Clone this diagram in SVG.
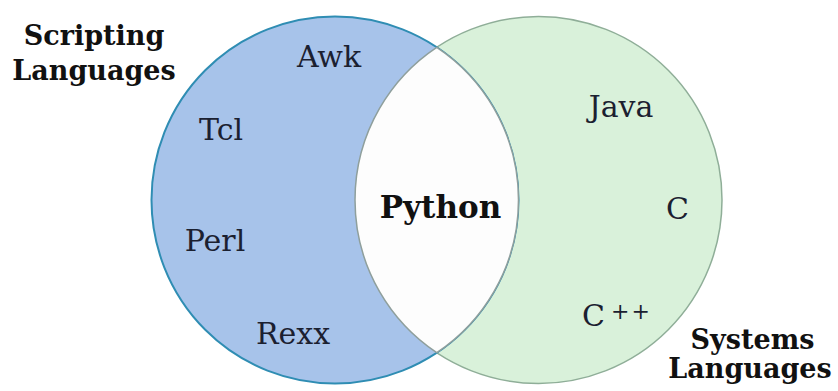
<svg xmlns="http://www.w3.org/2000/svg" width="838" height="391" viewBox="0 0 838 391">
<style>
text{font-family:"DejaVu Serif","Liberation Serif",serif;fill:#1b2030}
.b{font-weight:bold;fill:#111;font-size:27px}
.m{font-size:30px}
.p{font-size:31px}
</style>
<rect width="838" height="391" fill="#fff"/>
<g id="systems-set">
<circle cx="538.5" cy="200" r="183.5" fill="#d9f1da" stroke="#8fae98" stroke-width="1.5"/>
</g>
<g id="scripting-set">
<circle cx="335" cy="200" r="183.5" fill="#a7c3ea" stroke="#2f8db3" stroke-width="2"/>
</g>
<g id="python-overlap">
<path d="M436.75 47.3A183.5 183.5 0 0 1 436.75 352.7A183.5 183.5 0 0 1 436.75 47.3Z" fill="#fdfdfd" stroke="#8f9f9c" stroke-width="1.5"/>
<text class="b p" x="440.5" y="218" text-anchor="middle">Python</text>
</g>
<g id="labels">
<text class="b" x="94" y="45" text-anchor="middle">Scripting</text>
<text class="b" x="94" y="80" text-anchor="middle">Languages</text>
<text class="b" x="752.5" y="349" text-anchor="middle">Systems</text>
<text class="b" x="750" y="378" text-anchor="middle">Languages</text>
</g>
<g id="scripting-items">
<text class="m" x="329" y="67" text-anchor="middle">Awk</text>
<text class="m" x="221" y="140" text-anchor="middle">Tcl</text>
<text class="m" x="215" y="251" text-anchor="middle">Perl</text>
<text class="m" x="293" y="344" text-anchor="middle">Rexx</text>
</g>
<g id="systems-items">
<text class="m" x="621" y="117" text-anchor="middle">Java</text>
<text class="m" x="677.5" y="219" text-anchor="middle">C</text>
<text class="m" x="582" y="326">C</text>
<text font-size="22" letter-spacing="2" x="611" y="319">++</text>
</g>
</svg>
